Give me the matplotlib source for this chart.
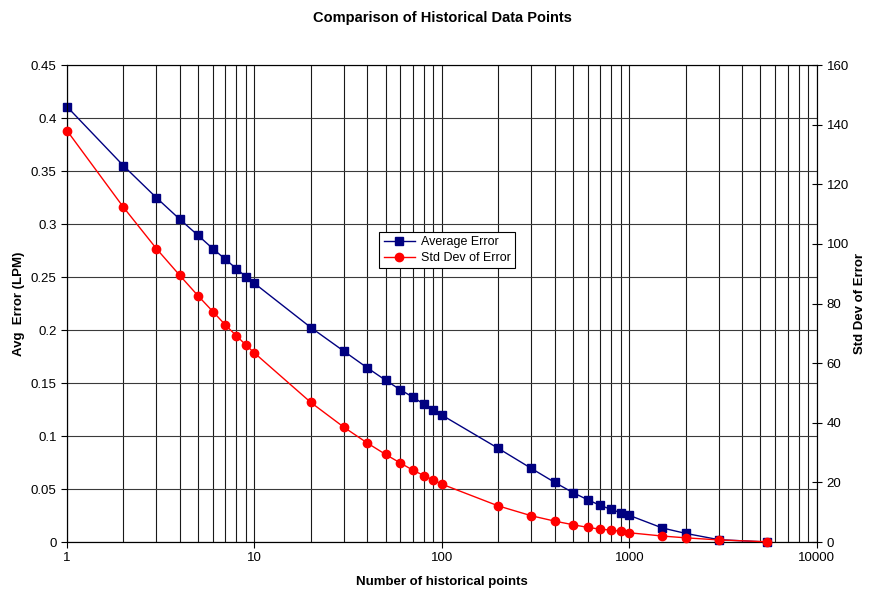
"""Comparison of historical data points: average error and std dev vs number of points"""

import matplotlib
matplotlib.use('Agg')
import matplotlib.pyplot as plt
from matplotlib.ticker import FixedLocator, FuncFormatter, LogLocator, NullFormatter

plt.rcParams['font.family'] = ['Liberation Sans', 'DejaVu Sans']

n_points = [1, 2, 3, 4, 5, 6, 7, 8, 9, 10,
            20, 30, 40, 50, 60, 70, 80, 90, 100,
            200, 300, 400, 500, 600, 700, 800, 900, 1000,
            1500, 2000, 3000, 5400]

avg_error = [0.4107, 0.355, 0.3248, 0.3044, 0.2893, 0.2767, 0.2667, 0.2579, 0.2503, 0.2440,
             0.2023, 0.180, 0.1643, 0.1527, 0.1436, 0.1367, 0.1301, 0.1244, 0.1197,
             0.0883, 0.0694, 0.0562, 0.0466, 0.0398, 0.0345, 0.0307, 0.0276, 0.0251,
             0.0132, 0.0081, 0.0022, 0.0]

std_error = [138.0, 112.3, 98.4, 89.4, 82.6, 77.3, 72.8, 69.2, 66.1, 63.4,
             46.8, 38.5, 33.2, 29.4, 26.5, 24.1, 22.3, 20.8, 19.4,
             12.1, 8.8, 7.0, 5.8, 4.9, 4.3, 4.0, 3.6, 3.1,
             2.0, 1.4, 0.7, 0.1]

left_ticks = [0, 0.05, 0.1, 0.15, 0.2, 0.25, 0.3, 0.35, 0.4, 0.45]
right_ticks = [0, 20, 40, 60, 80, 100, 120, 140, 160]


def plot_comparison():
    """Plots the two-axis comparison figure"""
    fig = plt.figure(figsize=(8.71, 5.97), dpi=100)
    ax = fig.add_axes([0.0769, 0.0921, 0.861, 0.799])
    ax2 = ax.twinx()

    ax.set_xscale('log')
    ax.set_xlim(1, 10000)
    ax.set_ylim(0, 0.45)
    ax2.set_ylim(0, 160)

    ax.yaxis.set_major_locator(FixedLocator(left_ticks))
    ax.yaxis.set_major_formatter(FuncFormatter(lambda v, p: f'{v:g}'))
    ax2.yaxis.set_major_locator(FixedLocator(right_ticks))

    ax.xaxis.set_major_locator(LogLocator(base=10))
    ax.xaxis.set_minor_locator(LogLocator(base=10, subs=range(2, 10)))
    ax.xaxis.set_major_formatter(FuncFormatter(lambda v, p: f'{v:g}'))
    ax.xaxis.set_minor_formatter(NullFormatter())

    ax.grid(True, which='both', axis='x', color='#1a1a1a', linewidth=0.8)
    ax.grid(True, which='major', axis='y', color='#3a3a3a', linewidth=0.8)
    ax.set_axisbelow(True)

    l1, = ax.plot(n_points, avg_error, color='#000080', marker='s',
                  markersize=5.5, linewidth=1.0, label='Average Error',
                  clip_on=False, zorder=3)
    l2, = ax2.plot(n_points, std_error, color='#ff0000', marker='o',
                   markersize=6, linewidth=1.0, label='Std Dev of Error',
                   clip_on=False, zorder=3)

    ax.tick_params(axis='both', which='major', labelsize=9.5, direction='out',
                   length=4, color='black')
    ax.tick_params(axis='x', which='minor', length=0)
    ax2.tick_params(axis='y', labelsize=9.5, direction='inout', length=7)

    for spine in ax.spines.values():
        spine.set_color('#333333')
    ax2.spines['right'].set_color('black')
    ax.spines['left'].set_color('black')
    ax.spines['bottom'].set_color('black')

    ax.set_title('Comparison of Historical Data Points', fontsize=10.5,
                 fontweight='bold', pad=31)
    ax.set_xlabel('Number of historical points', fontsize=9.5,
                  fontweight='bold', labelpad=8)
    ax.set_ylabel('Avg  Error (LPM)', fontsize=9.5, fontweight='bold',
                  labelpad=4)
    ax2.set_ylabel('Std Dev of Error', fontsize=9.5, fontweight='bold',
                   labelpad=4)

    leg = ax2.legend(handles=[l1, l2], loc='center',
                     bbox_to_anchor=(0.507, 0.612), fontsize=9,
                     fancybox=False, framealpha=1, edgecolor='black',
                     borderpad=0.35, handlelength=2.5, handletextpad=0.5,
                     labelspacing=0.3)
    leg.get_frame().set_linewidth(0.8)

    fig.savefig('out.png', dpi=100)


if __name__ == "__main__":
    plot_comparison()
